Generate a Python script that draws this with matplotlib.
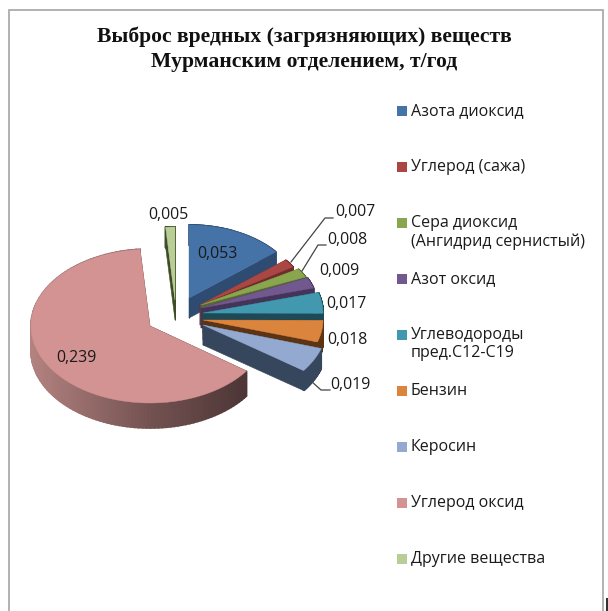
import numpy as np
import matplotlib
matplotlib.use('Agg')
import matplotlib.pyplot as plt
from matplotlib.patches import Polygon, Rectangle

W, H = 608, 611

names = ['Азота диоксид', 'Углерод (сажа)', 'Сера диоксид\n(Ангидрид сернистый)', 'Азот оксид',
         'Углеводороды\nпред.С12-С19', 'Бензин', 'Керосин', 'Углерод оксид', 'Другие вещества']
values = [0.053, 0.007, 0.008, 0.009, 0.017, 0.018, 0.019, 0.239, 0.005]
value_labels = ['0,053', '0,007', '0,008', '0,009', '0,017', '0,018', '0,019', '0,239', '0,005']

colors = ['#4572A7', '#AA4643', '#89A54E', '#71588F', '#4198AF', '#DB843D', '#93A9CF', '#D29392', '#B9CD96']
wall_colors = ['#2E4C72', '#6E2C2A', '#56682F', '#443459', '#1D4A56', '#5C3413', '#36465C', '#4D3535', '#3E4D28']

# exploded slice layout, pixels: centre x, centre y, radius x, radius y, depth
layout = [(189, 298, 112, 73, 20),
          (200, 305, 110, 71, 20),
          (201, 305, 115, 67, 20),
          (201, 308, 117, 72, 20),
          (203, 313, 120, 74, 20),
          (203, 320, 120, 73, 20),
          (203, 325, 124, 78, 20),
          (150, 326, 119, 77, 25),
          (175, 300, 112, 73, 20)]

label_pos = [(217, 254), (355, 212), (347, 240), (339, 271), (346, 304),
             (347, 340), (350, 385), (76, 358), (168, 215)]
leaders = [[(291, 262), (325, 218), (333, 218)],
           [(302, 271), (318, 245), (326, 245)],
           [(311, 381), (321, 390), (330, 390)]]
legend_y = [111, 167, 223, 279, 335, 391, 447, 503, 559]

plt.rcParams['font.family'] = ['Open Sans', 'DejaVu Sans']

fig = plt.figure(figsize=(W / 100, H / 100), dpi=100)
ax = fig.add_axes([0, 0, 1, 1])
ax.set_xlim(0, W)
ax.set_ylim(H, 0)
ax.axis('off')

# frame, open at the bottom
ax.plot([9, 9, 603, 603], [H, 10, 10, H], color='#ABABAB', lw=1.3, solid_joinstyle='miter')
ax.add_patch(Rectangle((605.5, 598), 2.5, 13, color='#333333', lw=0))

ax.text(304, 37, 'Выброс вредных (загрязняющих) веществ', ha='center', va='center',
        family='Liberation Serif', weight='bold', fontsize=15.6, color='#111111')
ax.text(304, 62, 'Мурманским отделением, т/год', ha='center', va='center',
        family='Liberation Serif', weight='bold', fontsize=15.6, color='#111111')

edges = np.concatenate([[0], np.cumsum(values)]) / sum(values) * 2 * np.pi


def edge_points(i, n=120):
    cx, cy, rx, ry, depth = layout[i]
    t = np.linspace(edges[i], edges[i + 1], n)
    return cx + rx * np.sin(t), cy - ry * np.cos(t)


for i in range(len(values)):
    cx, cy, rx, ry, depth = layout[i]
    x, y = edge_points(i)
    big = i == 7
    # radial walls
    for k in (0, -1):
        ax.add_patch(Polygon([(cx, cy), (x[k], y[k]), (x[k], y[k] + depth), (cx, cy + depth)],
                             closed=True, fc=wall_colors[i], ec=wall_colors[i], lw=0.4, zorder=2 + i))
    # outer wall, the big slice fades from left to right
    for k in range(len(x) - 1):
        c = wall_colors[i]
        if big:
            s = np.interp(x[k], [32, 150, 248], [0, 0.62, 1])
            c = np.array([0.70, 0.51, 0.50]) * (1 - s) + np.array([0.30, 0.21, 0.21]) * s
        ax.add_patch(Polygon([(x[k], y[k]), (x[k + 1], y[k + 1]), (x[k + 1], y[k + 1] + depth), (x[k], y[k] + depth)],
                             closed=True, fc=c, ec=c, lw=1.2, zorder=2 + i))
    ax.add_patch(Polygon(np.vstack([[cx, cy], np.column_stack([x, y])]), closed=True,
                         fc=colors[i], ec=colors[i], lw=0.3, zorder=2 + i))

for pts in leaders:
    ax.plot(*zip(*pts), color='#444444', lw=0.9, zorder=20)

for (lx, ly), t in zip(label_pos, value_labels):
    ax.text(lx, ly, t, ha='center', va='center', fontsize=11.4, color='#1A1A1A', zorder=21)

for name, c, ly in zip(names, colors, legend_y):
    ax.add_patch(Rectangle((397, ly - 5), 10, 10, fc=c, ec='none'))
    ax.text(411, ly - 8, name, ha='left', va='top', fontsize=11.5, color='#1A1A1A', linespacing=1.2)

fig.savefig('out.png', dpi=100)
